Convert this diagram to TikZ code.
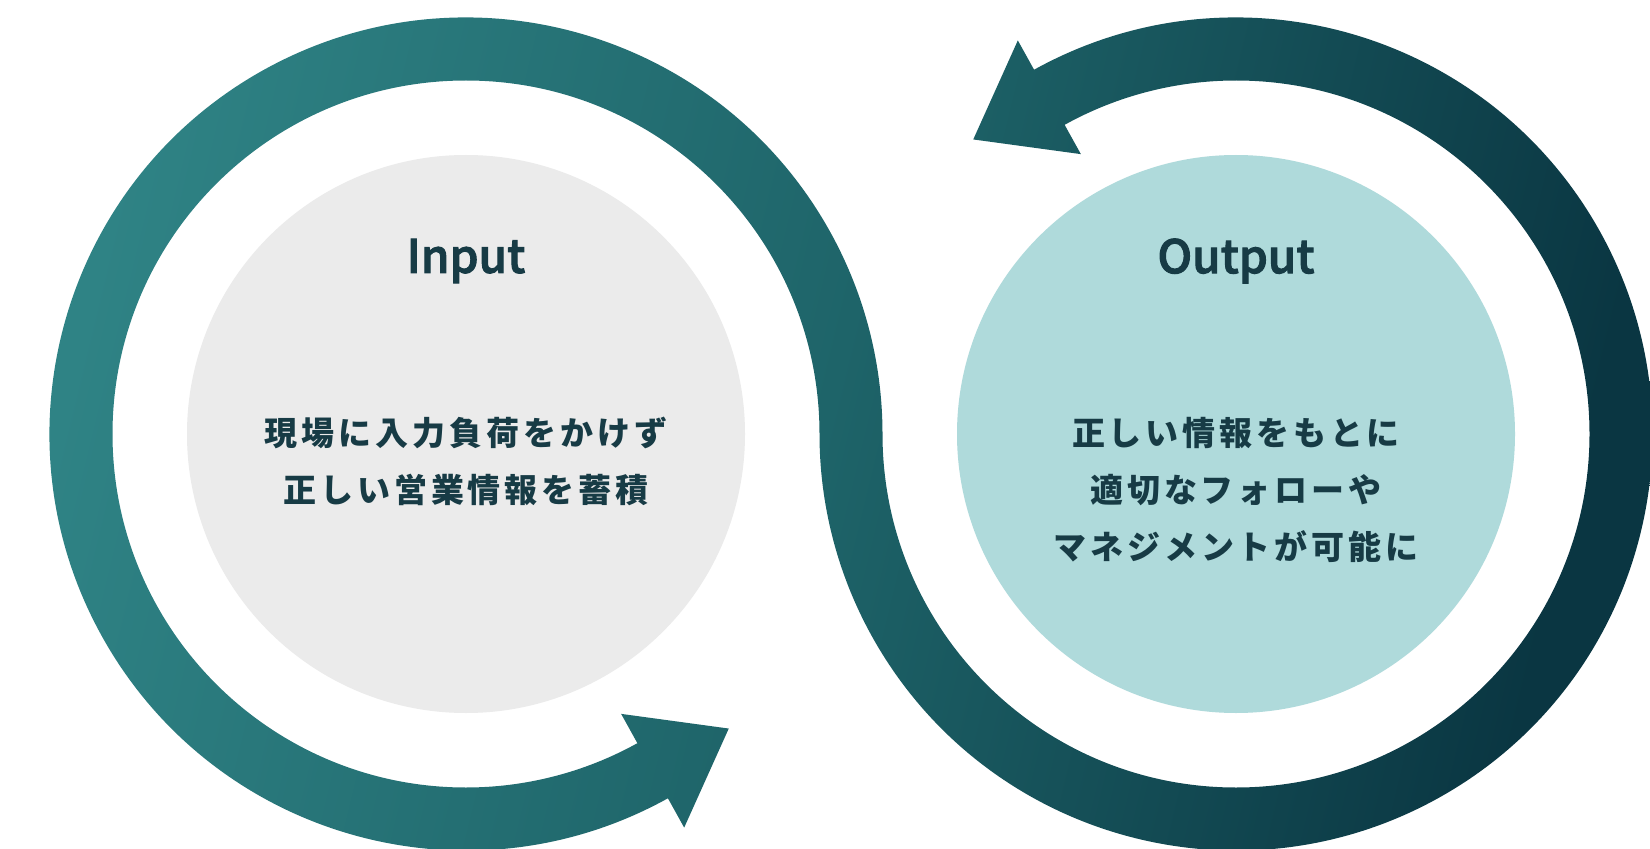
\documentclass[tikz,border=0pt]{standalone}
\usepackage{fontspec}
\usetikzlibrary{calc}
\newfontfamily\jpfont{Noto Sans CJK JP Medium}[FakeBold=2.2]
\newfontfamily\jpspaced{Noto Sans CJK JP Black}[LetterSpace=12]
\definecolor{ingray}{HTML}{EBEBEB}
\definecolor{outteal}{HTML}{AFDADB}
\definecolor{textdark}{HTML}{173B45}
\definecolor{bandlight}{HTML}{2F8385}
\definecolor{bandmid}{HTML}{1E6469}
\definecolor{banddark}{HTML}{0A3642}
\begin{document}
\begin{tikzpicture}[x=0.5pt,y=0.5pt,
  bubble/.style={circle, inner sep=0pt, minimum size=279pt, draw=none},
  title/.style={font=\jpfont\fontsize{23}{28}\selectfont, text=textdark, inner sep=0pt},
  body/.style={font=\jpspaced\fontsize{16.5}{28.5}\selectfont, text=textdark, align=center, inner sep=0pt}]
\useasboundingbox (0,0) rectangle (1650,848);
\fill[white] (0,0) rectangle (1650,848);
\coordinate (C1) at (466,414);
\coordinate (C2) at (1236,414);
\node[bubble, fill=ingray] (inbubble) at (C1) {};
\node[bubble, fill=outteal] (outbubble) at (C2) {};
\begin{scope}
\clip ($(C1)+(299:416.5)$) arc[start angle=299, end angle=0, radius=416.5]
  arc[start angle=180, end angle=479, radius=353.5]
  -- ($(C2)+(119:320)$)
  -- ($(C2)+(119:385)+(209:87)$)
  -- ($(C2)+(119:450)$)
  -- ($(C2)+(119:416.5)$)
  arc[start angle=479, end angle=180, radius=416.5]
  arc[start angle=0, end angle=299, radius=353.5]
  -- ($(C1)+(299:320)$)
  -- ($(C1)+(299:385)+(29:87)$)
  -- ($(C1)+(299:450)$)
  -- cycle;
\shade[top color=bandlight, bottom color=banddark, middle color=bandmid, shading angle=76.4] (0,0) rectangle (1650,848);
\end{scope}
\node[title] (intitle) at (466,587) {Input};
\node[title] (outtitle) at (1236,587) {Output};
\node[body] (intext) at (466,387) {現場に入力負荷をかけず\\正しい営業情報を蓄積};
\node[body] (outtext) at (1236,358) {正しい情報をもとに\\適切なフォローや\\マネジメントが可能に};
\end{tikzpicture}
\end{document}
